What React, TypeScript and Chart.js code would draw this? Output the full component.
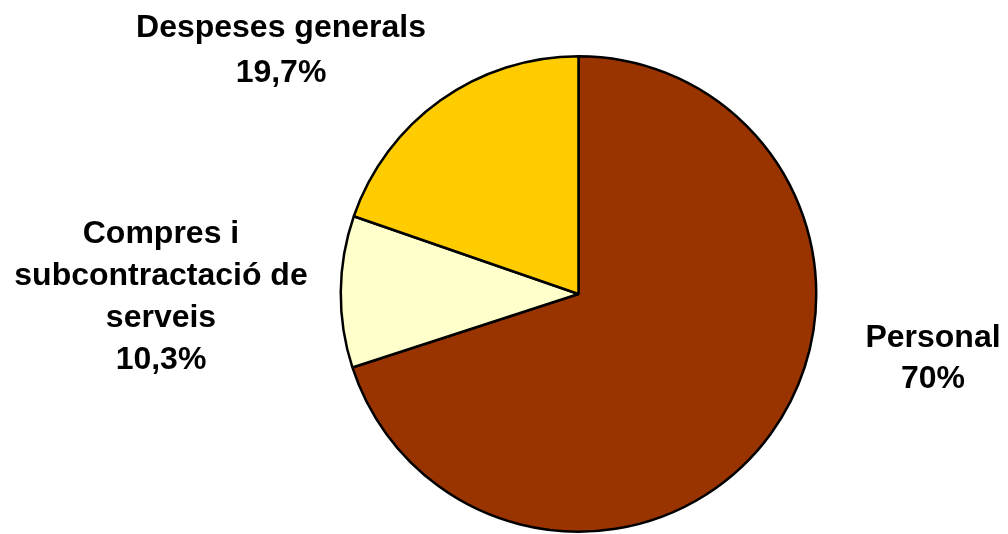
import React, { useEffect, useRef } from "react";
import { Chart, registerables } from "chart.js";

Chart.register(...registerables);

const categories = ["Personal", "Compres i subcontractació de serveis", "Despeses generals"];
const values = [70, 10.3, 19.7];
const valueLabels = ["70%", "10,3%", "19,7%"];
const colors = ["#993300", "#FFFFCC", "#FFCC00"];

// label text lines and their placement (center x, first baseline y, line step)
const labelLines = [
  ["Personal", "70%"],
  ["Compres i", "subcontractació de", "serveis", "10,3%"],
  ["Despeses generals", "19,7%"],
];
const labelAnchors = [
  { x: 933, y: 347, step: 41 },
  { x: 161, y: 243, step: 42 },
  { x: 281, y: 37, step: 45 },
];

const labelPlugin = {
  id: "outsideLabels",
  afterDraw(chart: any) {
    const ctx = chart.ctx;
    ctx.save();
    ctx.fillStyle = "#000";
    ctx.font = "bold 32px 'Liberation Sans', Arial, sans-serif";
    ctx.textAlign = "center";
    ctx.textBaseline = "alphabetic";
    labelLines.forEach((lines, i) => {
      const a = labelAnchors[i];
      lines.forEach((t, j) => ctx.fillText(t, a.x, a.y + j * a.step));
    });
    ctx.restore();
  },
};

export default function App() {
  const ref = useRef<HTMLCanvasElement>(null);
  useEffect(() => {
    const chart = new Chart(ref.current!, {
      type: "pie",
      data: {
        labels: categories,
        datasets: [
          {
            data: values,
            backgroundColor: colors,
            borderColor: "#000",
            borderWidth: 2.5,
          },
        ],
      },
      options: {
        animation: false,
        responsive: false,
        layout: { padding: { left: 339, right: 190, top: 55, bottom: 1 } },
        plugins: {
          legend: { display: false },
          tooltip: { enabled: false },
        },
      },
      plugins: [labelPlugin],
    });
    return () => chart.destroy();
  }, []);
  return (
    <div style={{ position: "fixed", left: 0, top: 0, width: 1008, height: 534, background: "#fff" }}>
      <canvas ref={ref} width={1008} height={534} />
    </div>
  );
}
